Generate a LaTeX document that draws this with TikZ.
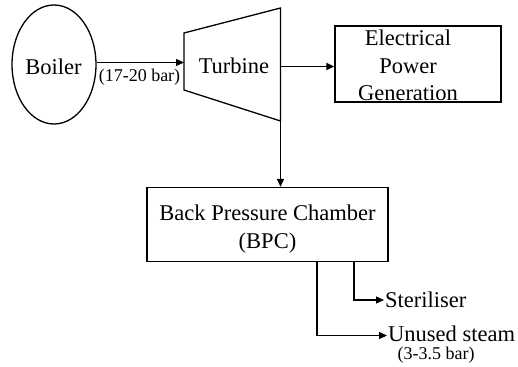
\documentclass[tikz,border=0pt]{standalone}
\usepackage{fontspec}
\setmainfont{Liberation Serif}
\usetikzlibrary{arrows.meta,shapes.geometric}
\tikzset{
  ln/.style={line width=1.3pt},
  arr/.style={ln,-{Triangle[length=8pt,width=7pt]}},
  bigtxt/.style={font=\fontsize{22.5}{28}\selectfont,inner sep=0pt,anchor=base},
  smalltxt/.style={font=\fontsize{18}{20}\selectfont,inner sep=0pt,anchor=base},
  boxnode/.style={draw,ln,rectangle,inner sep=0pt}
}
\begin{document}
\begin{tikzpicture}[x=1pt,y=-1pt]
\useasboundingbox (0,0) rectangle (518,366);
% Boiler
\node[draw,ln,ellipse,minimum width=84pt,minimum height=119pt,inner sep=0pt] (boiler) at (54,64.5) {};
\node[bigtxt] (boilertxt) at (53.5,75) {Boiler};
% Turbine
\coordinate (tlt) at (184,33);
\coordinate (tlb) at (184,90);
\coordinate (trt) at (280.5,8);
\coordinate (trb) at (280.5,121);
\draw[ln,line join=miter] (tlt) -- (trt) -- (trb) -- (tlb) -- cycle;
\node[bigtxt] (turbtxt) at (234,74) {Turbine};
\coordinate (tin) at (184,62.5);
\coordinate (tout) at (280.5,66.5);
% Electrical
\node[boxnode,minimum width=166pt,minimum height=76pt] (elec) at (418,64) {};
\node[bigtxt] (el1) at (408,46) {Electrical};
\node[bigtxt] (el2) at (408,74) {Power};
\node[bigtxt] (el3) at (408,101) {Generation};
% BPC
\node[boxnode,minimum width=241pt,minimum height=74pt] (bpc) at (267.5,224.5) {};
\node[bigtxt] (bpc1) at (267.5,220) {Back Pressure Chamber};
\node[bigtxt] (bpc2) at (267.5,248) {(BPC)};
% connectors
\draw[arr] (boiler.east |- tin) -- (tin);
\node[smalltxt] (p1) at (139.5,82) {(17-20 bar)};
\draw[arr] (tout) -- (tout -| elec.west);
\draw[arr] (trb) -- (trb |- bpc.north);
% outputs
\node[bigtxt,anchor=base west] (ster) at (385,307) {Steriliser};
\node[bigtxt,anchor=base west] (unused) at (388,341) {Unused steam};
\node[smalltxt] (p2) at (436,359) {(3-3.5 bar)};
\coordinate (b1) at (354,262);
\coordinate (b2) at (317,262);
\coordinate (a1) at (384,300);
\coordinate (a2) at (387,335.5);
\draw[arr] (b1) |- (a1);
\draw[arr] (b2) |- (a2);
\end{tikzpicture}
\end{document}
